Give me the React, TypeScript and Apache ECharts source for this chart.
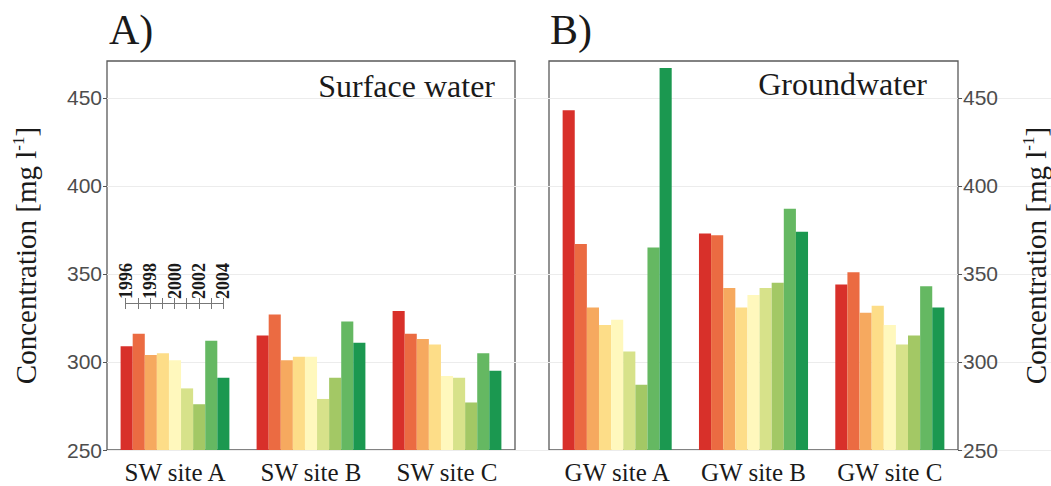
import React, { useEffect, useRef } from "react";
import * as echarts from "echarts";

const years = ["1996", "1997", "1998", "1999", "2000", "2001", "2002", "2003", "2004"];
const swSites = ["SW site A", "SW site B", "SW site C"];
const gwSites = ["GW site A", "GW site B", "GW site C"];

// values per site, one per year 1996..2004 (mg l-1)
const swSiteA = [309, 316, 304, 305, 301, 285, 276, 312, 291];
const swSiteB = [315, 327, 301, 303, 303, 279, 291, 323, 311];
const swSiteC = [329, 316, 313, 310, 292, 291, 277, 305, 295];
const gwSiteA = [443, 367, 331, 321, 324, 306, 287, 365, 467];
const gwSiteB = [373, 372, 342, 331, 338, 342, 345, 387, 374];
const gwSiteC = [344, 351, 328, 332, 321, 310, 315, 343, 331];

const yTicks = [250, 300, 350, 400, 450];
const yMin = 250;
const yMax = 471;

const yearColors = [
  "#d8302a", "#eb6b42", "#f6a95f", "#fddd88", "#fff8bd",
  "#d7e28a", "#a3c865", "#65b862", "#1b9850",
];

const SERIF = "'Liberation Serif', 'Times New Roman', serif";
const SANS = "'Liberation Sans', Arial, sans-serif";

export default function App() {
  const ref = useRef<HTMLDivElement>(null);

  useEffect(() => {
    if (!ref.current) return;
    const chart = echarts.init(ref.current, null, { renderer: "svg" });

    const swData = [swSiteA, swSiteB, swSiteC];
    const gwData = [gwSiteA, gwSiteB, gwSiteC];

    const series: any[] = [];
    years.forEach((yr, i) => {
      series.push({
        type: "bar",
        name: yr,
        xAxisIndex: 0,
        yAxisIndex: 0,
        data: swData.map((site) => site[i]),
        itemStyle: { color: yearColors[i] },
        barGap: "0%",
        barCategoryGap: "20%",
      });
    });
    years.forEach((yr, i) => {
      series.push({
        type: "bar",
        name: yr,
        xAxisIndex: 1,
        yAxisIndex: 1,
        data: gwData.map((site) => site[i]),
        itemStyle: { color: yearColors[i] },
        barGap: "0%",
        barCategoryGap: "20%",
      });
    });

    const nameText = "Concentration [mg l{sup|-1}]";
    const nameStyle = {
      fontFamily: SERIF,
      fontSize: 29,
      color: "#1a1a1a",
      rich: {
        sup: { fontFamily: SERIF, fontSize: 17, color: "#1a1a1a", verticalAlign: "top", padding: [0, 0, 14, 0] },
      },
    };

    const panelY = (pos: "left" | "right", gridIndex: number) => ({
      type: "value",
      gridIndex,
      position: pos,
      min: yMin,
      max: yMax,
      splitLine: { show: false },
      axisLine: { show: false },
      axisTick: { show: true, length: 4, lineStyle: { color: "#555" }, customValues: yTicks },
      axisLabel: {
        customValues: yTicks,
        fontFamily: SANS,
        fontSize: 21,
        color: "#4d4d4d",
        margin: 5,
      },
      name: nameText,
      nameLocation: "middle",
      nameRotate: 90,
      nameGap: pos === "left" ? 66 : 62,
      nameTextStyle: nameStyle,
    });

    const panelX = (data: string[], gridIndex: number) => ({
      type: "category",
      gridIndex,
      data,
      axisLine: { show: false },
      axisTick: { show: false },
      axisLabel: { interval: 0, fontFamily: SERIF, fontSize: 25, color: "#1a1a1a", margin: 10 },
    });

    const option: any = {
      animation: false,
      backgroundColor: "#ffffff",
      title: [
        { text: "A)", left: 104, top: 4, textStyle: { fontFamily: SERIF, fontSize: 42, fontWeight: "normal", color: "#1a1a1a" } },
        { text: "B)", left: 545, top: 4, textStyle: { fontFamily: SERIF, fontSize: 42, fontWeight: "normal", color: "#1a1a1a" } },
      ],
      grid: [
        { left: 107, top: 61, width: 408, height: 389, show: true, borderColor: "#595959", borderWidth: 1.3, backgroundColor: "transparent" },
        { left: 549, top: 61, width: 410, height: 389, show: true, borderColor: "#595959", borderWidth: 1.3, backgroundColor: "transparent" },
        { left: 107, right: 0, top: 98, height: 352, show: false },
        { left: 125.7, width: 97.6, top: 303, height: 0, show: false },
      ],
      xAxis: [
        panelX(swSites, 0),
        panelX(gwSites, 1),
        { type: "value", gridIndex: 2, show: false, min: 0, max: 1 },
        {
          type: "category",
          gridIndex: 3,
          position: "top",
          data: years,
          boundaryGap: false,
          axisLine: { show: true, lineStyle: { color: "#777", width: 1 } },
          axisTick: { show: true, length: 5, interval: 0, lineStyle: { color: "#777" } },
          axisLabel: {
            interval: 1,
            rotate: 90,
            margin: 4,
            fontFamily: SERIF,
            fontWeight: "bold",
            fontSize: 18,
            color: "#1a1a1a",
          },
        },
        {
          type: "category",
          gridIndex: 3,
          position: "bottom",
          data: years,
          boundaryGap: false,
          axisLine: { show: true, lineStyle: { color: "#777", width: 1 } },
          axisTick: { show: true, length: 6, interval: 0, lineStyle: { color: "#777" } },
          axisLabel: { show: false },
        },
      ],
      yAxis: [
        panelY("left", 0),
        panelY("right", 1),
        {
          type: "value",
          gridIndex: 2,
          min: 250,
          max: 450,
          interval: 50,
          axisLine: { show: false },
          axisTick: { show: false },
          axisLabel: { show: false },
          splitLine: { show: true, lineStyle: { color: "#ececec", width: 1.2 } },
        },
        { type: "value", gridIndex: 3, show: false, min: 0, max: 1 },
      ],
      graphic: [
        {
          type: "text",
          right: 1051 - 495,
          top: 70,
          style: { text: "Surface water", font: `32px ${SERIF}`, fill: "#1a1a1a" },
        },
        {
          type: "text",
          right: 1051 - 927,
          top: 68,
          style: { text: "Groundwater", font: `32px ${SERIF}`, fill: "#1a1a1a" },
        },
      ],
      series,
    };

    chart.setOption(option);
    return () => chart.dispose();
  }, []);

  return (
    <div
      ref={ref}
      style={{ position: "fixed", left: 0, top: 0, width: 1051, height: 486 }}
    />
  );
}
